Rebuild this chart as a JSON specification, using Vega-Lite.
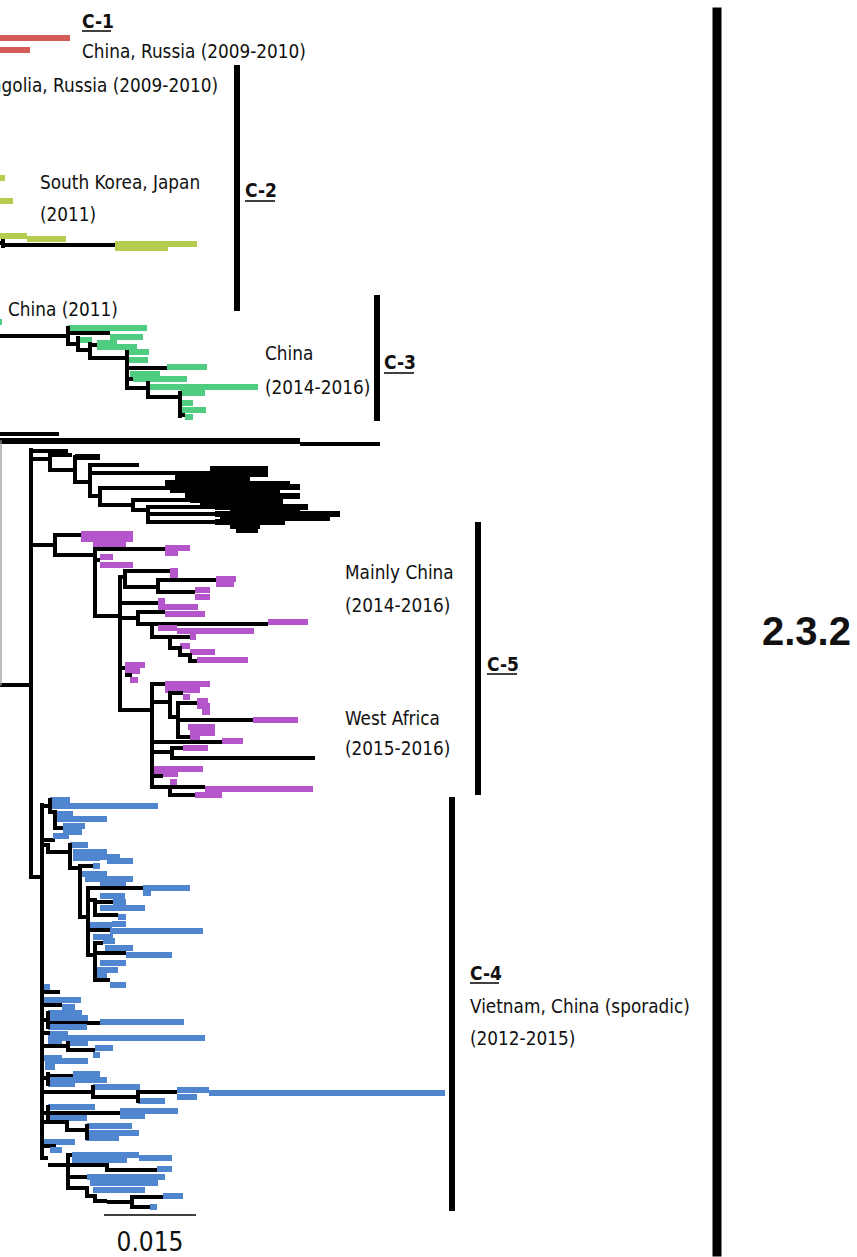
{
"$schema":"https://vega.github.io/schema/vega-lite/v6.json",
"width":857,"height":1257,"padding":0,
"autosize":{"type":"fit","contains":"padding"},
"background":"white",
"config":{"view":{"stroke":null}},
"datasets":{
"h":[
{"x":0,"x2":70,"y":38,"c":"C1","k":"t"},{"x":0,"x2":30,"y":50,"c":"C1","k":"t"},
{"x":0,"x2":5,"y":178,"c":"C2","k":"t"},{"x":0,"x2":13,"y":201,"c":"C2","k":"t"},{"x":0,"x2":27,"y":236,"c":"C2","k":"t"},{"x":27,"x2":66,"y":239,"c":"C2","k":"t"},{"x":0,"x2":3,"y":243,"c":"bk","k":"b"},{"x":3,"x2":115,"y":245,"c":"bk","k":"b"},{"x":115,"x2":197,"y":244,"c":"C2","k":"t"},{"x":115,"x2":168,"y":248,"c":"C2","k":"t"},
{"x":0,"x2":2,"y":322,"c":"C3","k":"t"},
{"x":0,"x2":68,"y":336,"c":"bk","k":"b"},{"x":68,"x2":147,"y":328,"c":"C3","k":"t"},{"x":68,"x2":110,"y":333,"c":"bk","k":"b"},{"x":110,"x2":143,"y":337,"c":"C3","k":"t"},{"x":68,"x2":78,"y":344,"c":"bk","k":"b"},{"x":80,"x2":92,"y":340,"c":"C3","k":"t"},{"x":78,"x2":90,"y":350,"c":"bk","k":"b"},{"x":90,"x2":97,"y":345,"c":"bk","k":"b"},{"x":97,"x2":117,"y":343,"c":"C3","k":"t"},{"x":97,"x2":137,"y":347,"c":"C3","k":"t"},{"x":90,"x2":127,"y":358,"c":"bk","k":"b"},{"x":127,"x2":149,"y":352,"c":"C3","k":"t"},{"x":127,"x2":148,"y":360,"c":"C3","k":"t"},{"x":127,"x2":167,"y":368,"c":"bk","k":"b"},{"x":167,"x2":207,"y":367,"c":"C3","k":"t"},{"x":127,"x2":133,"y":379,"c":"bk","k":"b"},{"x":133,"x2":187,"y":379,"c":"C3","k":"t"},{"x":130,"x2":160,"y":374,"c":"C3","k":"t"},{"x":127,"x2":148,"y":388,"c":"bk","k":"b"},{"x":148,"x2":258,"y":387,"c":"C3","k":"t"},{"x":148,"x2":180,"y":397,"c":"bk","k":"b"},{"x":180,"x2":205,"y":393,"c":"C3","k":"t"},{"x":180,"x2":193,"y":403,"c":"C3","k":"t"},{"x":182,"x2":206,"y":410,"c":"C3","k":"t"},{"x":180,"x2":185,"y":415,"c":"bk","k":"b"},{"x":185,"x2":193,"y":417,"c":"C3","k":"t"},
{"x":0,"x2":59,"y":434,"c":"bk","k":"b"},{"x":0,"x2":300,"y":441,"c":"bk","k":"bt"},{"x":300,"x2":380,"y":444,"c":"bk","k":"b"},{"x":0,"x2":31,"y":685,"c":"bk","k":"b"},
{"x":31,"x2":68,"y":451,"c":"bk","k":"b"},{"x":31,"x2":50,"y":459,"c":"bk","k":"b"},{"x":50,"x2":72,"y":455,"c":"bk","k":"b"},{"x":50,"x2":75,"y":470,"c":"bk","k":"b"},{"x":75,"x2":100,"y":457,"c":"bk","k":"bt"},{"x":75,"x2":90,"y":482,"c":"bk","k":"b"},{"x":90,"x2":139,"y":465,"c":"bk","k":"b"},{"x":90,"x2":190,"y":473,"c":"bk","k":"b"},{"x":190,"x2":268,"y":474,"c":"bk","k":"bt"},{"x":210,"x2":268,"y":469,"c":"bk","k":"bt"},{"x":190,"x2":240,"y":479,"c":"bk","k":"bt"},{"x":90,"x2":100,"y":496,"c":"bk","k":"b"},{"x":100,"x2":170,"y":488,"c":"bk","k":"b"},{"x":170,"x2":300,"y":487,"c":"bk","k":"bt"},{"x":165,"x2":210,"y":483,"c":"bk","k":"bt"},{"x":210,"x2":280,"y":492,"c":"bk","k":"bt"},{"x":100,"x2":133,"y":505,"c":"bk","k":"b"},{"x":133,"x2":190,"y":500,"c":"bk","k":"b"},{"x":190,"x2":283,"y":500,"c":"bk","k":"bt"},{"x":133,"x2":148,"y":510,"c":"bk","k":"b"},{"x":148,"x2":215,"y":507,"c":"bk","k":"b"},{"x":215,"x2":308,"y":507,"c":"bk","k":"bt"},{"x":148,"x2":215,"y":514,"c":"bk","k":"b"},{"x":215,"x2":340,"y":514,"c":"bk","k":"bt"},{"x":148,"x2":215,"y":522,"c":"bk","k":"b"},{"x":215,"x2":285,"y":522,"c":"bk","k":"bt"},{"x":230,"x2":260,"y":526,"c":"bk","k":"bt"},
{"x":175,"x2":250,"y":478,"c":"bk","k":"bt"},{"x":200,"x2":290,"y":484,"c":"bk","k":"bt"},{"x":170,"x2":260,"y":490,"c":"bk","k":"bt"},{"x":185,"x2":300,"y":496,"c":"bk","k":"bt"},{"x":200,"x2":283,"y":503,"c":"bk","k":"bt"},{"x":230,"x2":300,"y":510,"c":"bk","k":"bt"},{"x":220,"x2":330,"y":518,"c":"bk","k":"bt"},{"x":236,"x2":258,"y":530,"c":"bk","k":"bt"},
{"x":31,"x2":55,"y":545,"c":"bk","k":"b"},{"x":55,"x2":81,"y":535,"c":"bk","k":"b"},{"x":81,"x2":133,"y":534,"c":"C5","k":"t"},{"x":81,"x2":133,"y":539,"c":"C5","k":"t"},{"x":93,"x2":126,"y":544,"c":"C5","k":"t"},{"x":55,"x2":95,"y":555,"c":"bk","k":"b"},{"x":95,"x2":165,"y":549,"c":"bk","k":"b"},{"x":165,"x2":190,"y":548,"c":"C5","k":"t"},{"x":165,"x2":178,"y":553,"c":"C5","k":"t"},{"x":95,"x2":100,"y":560,"c":"bk","k":"b"},{"x":100,"x2":113,"y":557,"c":"C5","k":"t"},{"x":100,"x2":133,"y":565,"c":"C5","k":"t"},{"x":95,"x2":120,"y":616,"c":"bk","k":"b"},{"x":120,"x2":125,"y":577,"c":"bk","k":"b"},{"x":125,"x2":170,"y":571,"c":"bk","k":"b"},{"x":170,"x2":178,"y":571,"c":"C5","k":"t"},{"x":170,"x2":178,"y":576,"c":"C5","k":"t"},{"x":125,"x2":158,"y":587,"c":"bk","k":"b"},{"x":158,"x2":216,"y":580,"c":"bk","k":"b"},{"x":216,"x2":236,"y":579,"c":"C5","k":"t"},{"x":216,"x2":234,"y":584,"c":"C5","k":"t"},{"x":158,"x2":195,"y":592,"c":"bk","k":"b"},{"x":195,"x2":210,"y":590,"c":"C5","k":"t"},{"x":195,"x2":210,"y":597,"c":"C5","k":"t"},{"x":120,"x2":158,"y":603,"c":"bk","k":"b"},{"x":158,"x2":165,"y":601,"c":"C5","k":"t"},{"x":120,"x2":138,"y":618,"c":"bk","k":"b"},{"x":138,"x2":165,"y":612,"c":"bk","k":"b"},{"x":165,"x2":205,"y":614,"c":"C5","k":"t"},{"x":158,"x2":198,"y":607,"c":"C5","k":"t"},{"x":138,"x2":268,"y":624,"c":"bk","k":"b"},{"x":268,"x2":308,"y":622,"c":"C5","k":"t"},
{"x":152,"x2":190,"y":637,"c":"bk","k":"b"},{"x":190,"x2":196,"y":637,"c":"C5","k":"t"},{"x":158,"x2":177,"y":628,"c":"C5","k":"t"},{"x":177,"x2":254,"y":631,"c":"C5","k":"t"},{"x":170,"x2":180,"y":648,"c":"bk","k":"b"},{"x":180,"x2":190,"y":655,"c":"bk","k":"b"},{"x":190,"x2":197,"y":661,"c":"bk","k":"b"},{"x":180,"x2":190,"y":646,"c":"C5","k":"t"},{"x":190,"x2":215,"y":652,"c":"C5","k":"t"},{"x":197,"x2":248,"y":660,"c":"C5","k":"t"},
{"x":120,"x2":125,"y":668,"c":"bk","k":"b"},{"x":125,"x2":145,"y":665,"c":"C5","k":"t"},{"x":125,"x2":140,"y":671,"c":"C5","k":"t"},{"x":125,"x2":132,"y":675,"c":"bk","k":"b"},{"x":130,"x2":138,"y":680,"c":"C5","k":"t"},
{"x":120,"x2":152,"y":710,"c":"bk","k":"b"},{"x":152,"x2":165,"y":684,"c":"bk","k":"b"},{"x":165,"x2":210,"y":684,"c":"C5","k":"t"},{"x":165,"x2":200,"y":690,"c":"C5","k":"t"},{"x":152,"x2":170,"y":702,"c":"bk","k":"b"},{"x":170,"x2":183,"y":693,"c":"bk","k":"b"},{"x":183,"x2":190,"y":697,"c":"C5","k":"t"},{"x":170,"x2":178,"y":717,"c":"bk","k":"b"},{"x":178,"x2":197,"y":703,"c":"bk","k":"b"},{"x":197,"x2":208,"y":701,"c":"C5","k":"t"},{"x":197,"x2":210,"y":706,"c":"C5","k":"t"},{"x":202,"x2":210,"y":712,"c":"C5","k":"t"},{"x":178,"x2":253,"y":720,"c":"bk","k":"b"},{"x":253,"x2":298,"y":720,"c":"C5","k":"t"},{"x":188,"x2":215,"y":727,"c":"C5","k":"t"},{"x":190,"x2":215,"y":733,"c":"C5","k":"t"},{"x":178,"x2":190,"y":737,"c":"bk","k":"b"},{"x":190,"x2":200,"y":738,"c":"C5","k":"t"},{"x":152,"x2":222,"y":742,"c":"bk","k":"b"},{"x":222,"x2":243,"y":741,"c":"C5","k":"t"},{"x":152,"x2":172,"y":752,"c":"bk","k":"b"},{"x":172,"x2":183,"y":748,"c":"bk","k":"b"},{"x":183,"x2":208,"y":748,"c":"C5","k":"t"},{"x":172,"x2":315,"y":758,"c":"bk","k":"b"},{"x":152,"x2":203,"y":769,"c":"C5","k":"t"},{"x":152,"x2":178,"y":774,"c":"C5","k":"t"},{"x":150,"x2":163,"y":776,"c":"bk","k":"b"},{"x":170,"x2":177,"y":782,"c":"C5","k":"t"},{"x":152,"x2":205,"y":787,"c":"bk","k":"b"},{"x":205,"x2":313,"y":789,"c":"C5","k":"t"},{"x":170,"x2":195,"y":795,"c":"bk","k":"b"},{"x":195,"x2":222,"y":795,"c":"C5","k":"t"},
{"x":31,"x2":42,"y":877,"c":"bk","k":"b"},
{"x":42,"x2":50,"y":806,"c":"bk","k":"b"},{"x":50,"x2":70,"y":800,"c":"C4","k":"t"},{"x":50,"x2":158,"y":806,"c":"C4","k":"t"},{"x":50,"x2":55,"y":812,"c":"bk","k":"b"},{"x":55,"x2":73,"y":814,"c":"C4","k":"t"},{"x":57,"x2":107,"y":819,"c":"C4","k":"t"},{"x":55,"x2":63,"y":828,"c":"bk","k":"b"},{"x":63,"x2":85,"y":826,"c":"C4","k":"t"},{"x":63,"x2":82,"y":832,"c":"C4","k":"t"},
{"x":42,"x2":55,"y":840,"c":"bk","k":"b"},{"x":53,"x2":69,"y":836,"c":"C4","k":"t"},
{"x":42,"x2":48,"y":845,"c":"bk","k":"b"},{"x":48,"x2":70,"y":852,"c":"bk","k":"b"},{"x":70,"x2":88,"y":845,"c":"C4","k":"t"},{"x":73,"x2":107,"y":852,"c":"C4","k":"t"},{"x":85,"x2":120,"y":857,"c":"C4","k":"t"},{"x":107,"x2":133,"y":861,"c":"C4","k":"t"},{"x":73,"x2":100,"y":858,"c":"C4","k":"t"},
{"x":70,"x2":80,"y":868,"c":"bk","k":"b"},{"x":80,"x2":93,"y":866,"c":"bk","k":"b"},{"x":93,"x2":100,"y":866,"c":"C4","k":"t"},{"x":82,"x2":107,"y":874,"c":"C4","k":"t"},{"x":85,"x2":133,"y":879,"c":"C4","k":"t"},{"x":100,"x2":126,"y":884,"c":"C4","k":"t"},
{"x":80,"x2":88,"y":917,"c":"bk","k":"b"},{"x":88,"x2":143,"y":888,"c":"bk","k":"b"},{"x":143,"x2":190,"y":888,"c":"C4","k":"t"},{"x":143,"x2":151,"y":893,"c":"C4","k":"t"},
{"x":88,"x2":95,"y":900,"c":"bk","k":"b"},{"x":95,"x2":113,"y":902,"c":"bk","k":"b"},{"x":100,"x2":125,"y":896,"c":"C4","k":"t"},{"x":113,"x2":126,"y":902,"c":"C4","k":"t"},{"x":100,"x2":145,"y":908,"c":"C4","k":"t"},{"x":95,"x2":118,"y":915,"c":"bk","k":"b"},{"x":118,"x2":126,"y":917,"c":"C4","k":"t"},{"x":112,"x2":126,"y":924,"c":"C4","k":"t"},
{"x":88,"x2":110,"y":930,"c":"bk","k":"b"},{"x":110,"x2":203,"y":931,"c":"C4","k":"t"},{"x":90,"x2":112,"y":925,"c":"C4","k":"t"},{"x":93,"x2":113,"y":937,"c":"C4","k":"t"},
{"x":88,"x2":95,"y":955,"c":"bk","k":"b"},{"x":95,"x2":103,"y":943,"c":"bk","k":"b"},{"x":103,"x2":115,"y":941,"c":"C4","k":"t"},{"x":105,"x2":133,"y":948,"c":"C4","k":"t"},{"x":95,"x2":126,"y":953,"c":"bk","k":"b"},{"x":126,"x2":172,"y":955,"c":"C4","k":"t"},{"x":100,"x2":126,"y":963,"c":"C4","k":"t"},{"x":97,"x2":118,"y":970,"c":"C4","k":"t"},{"x":95,"x2":107,"y":976,"c":"C4","k":"t"},{"x":95,"x2":110,"y":980,"c":"bk","k":"b"},{"x":110,"x2":126,"y":985,"c":"C4","k":"t"},
{"x":43,"x2":50,"y":987,"c":"C4","k":"t"},{"x":42,"x2":60,"y":992,"c":"bk","k":"b"},{"x":44,"x2":81,"y":1000,"c":"C4","k":"t"},{"x":42,"x2":62,"y":1005,"c":"bk","k":"b"},{"x":62,"x2":75,"y":1007,"c":"C4","k":"t"},{"x":48,"x2":82,"y":1013,"c":"C4","k":"t"},{"x":48,"x2":88,"y":1018,"c":"C4","k":"t"},{"x":42,"x2":48,"y":1020,"c":"bk","k":"b"},{"x":48,"x2":100,"y":1023,"c":"bk","k":"b"},{"x":100,"x2":184,"y":1022,"c":"C4","k":"t"},{"x":48,"x2":87,"y":1027,"c":"C4","k":"t"},{"x":42,"x2":50,"y":1033,"c":"bk","k":"b"},{"x":50,"x2":68,"y":1034,"c":"C4","k":"t"},{"x":48,"x2":205,"y":1038,"c":"C4","k":"t"},{"x":48,"x2":62,"y":1042,"c":"C4","k":"t"},{"x":42,"x2":68,"y":1046,"c":"bk","k":"b"},{"x":68,"x2":88,"y":1043,"c":"C4","k":"t"},{"x":68,"x2":95,"y":1050,"c":"bk","k":"b"},{"x":95,"x2":113,"y":1048,"c":"C4","k":"t"},{"x":93,"x2":100,"y":1055,"c":"C4","k":"t"},{"x":43,"x2":62,"y":1058,"c":"C4","k":"t"},{"x":45,"x2":88,"y":1061,"c":"C4","k":"t"},{"x":45,"x2":55,"y":1067,"c":"C4","k":"t"},{"x":42,"x2":48,"y":1078,"c":"bk","k":"b"},{"x":48,"x2":73,"y":1076,"c":"bk","k":"b"},{"x":73,"x2":100,"y":1074,"c":"C4","k":"t"},{"x":48,"x2":107,"y":1080,"c":"C4","k":"t"},{"x":48,"x2":75,"y":1084,"c":"C4","k":"t"},{"x":42,"x2":93,"y":1092,"c":"bk","k":"b"},{"x":93,"x2":140,"y":1087,"c":"C4","k":"t"},{"x":93,"x2":138,"y":1097,"c":"bk","k":"b"},{"x":138,"x2":177,"y":1092,"c":"bk","k":"b"},{"x":177,"x2":209,"y":1090,"c":"C4","k":"t"},{"x":209,"x2":445,"y":1093,"c":"C4","k":"t"},{"x":177,"x2":197,"y":1097,"c":"C4","k":"t"},{"x":138,"x2":165,"y":1101,"c":"C4","k":"t"},{"x":48,"x2":95,"y":1107,"c":"C4","k":"t"},{"x":42,"x2":120,"y":1113,"c":"bk","k":"b"},{"x":120,"x2":178,"y":1111,"c":"C4","k":"t"},{"x":120,"x2":145,"y":1116,"c":"C4","k":"t"},{"x":48,"x2":87,"y":1118,"c":"C4","k":"t"},{"x":42,"x2":67,"y":1122,"c":"bk","k":"b"},{"x":67,"x2":87,"y":1130,"c":"bk","k":"b"},{"x":87,"x2":132,"y":1126,"c":"C4","k":"t"},{"x":87,"x2":139,"y":1133,"c":"C4","k":"t"},{"x":86,"x2":119,"y":1138,"c":"C4","k":"t"},{"x":43,"x2":75,"y":1142,"c":"C4","k":"t"},{"x":42,"x2":56,"y":1146,"c":"bk","k":"b"},{"x":50,"x2":62,"y":1150,"c":"C4","k":"t"},
{"x":42,"x2":48,"y":1158,"c":"bk","k":"b"},{"x":48,"x2":68,"y":1165,"c":"bk","k":"b"},{"x":68,"x2":72,"y":1155,"c":"bk","k":"b"},{"x":72,"x2":139,"y":1155,"c":"C4","k":"t"},{"x":139,"x2":172,"y":1158,"c":"C4","k":"t"},{"x":72,"x2":127,"y":1160,"c":"C4","k":"t"},{"x":68,"x2":107,"y":1165,"c":"bk","k":"b"},{"x":107,"x2":157,"y":1170,"c":"bk","k":"b"},{"x":157,"x2":172,"y":1169,"c":"C4","k":"t"},{"x":68,"x2":87,"y":1177,"c":"bk","k":"b"},{"x":87,"x2":165,"y":1177,"c":"C4","k":"t"},{"x":90,"x2":158,"y":1183,"c":"C4","k":"t"},{"x":68,"x2":87,"y":1188,"c":"bk","k":"b"},{"x":93,"x2":145,"y":1190,"c":"C4","k":"t"},{"x":87,"x2":95,"y":1196,"c":"bk","k":"b"},{"x":95,"x2":107,"y":1201,"c":"bk","k":"b"},{"x":107,"x2":132,"y":1202,"c":"bk","k":"b"},{"x":132,"x2":163,"y":1197,"c":"bk","k":"b"},{"x":163,"x2":183,"y":1196,"c":"C4","k":"t"},{"x":132,"x2":150,"y":1207,"c":"bk","k":"b"},{"x":150,"x2":157,"y":1207,"c":"C4","k":"t"},
{"x":104,"x2":196,"y":1215,"c":"bk","k":"sc"},
{"x":82,"x2":111,"y":31,"c":"bk","k":"ul"},{"x":245,"x2":275,"y":201,"c":"bk","k":"ul"},{"x":384,"x2":414,"y":373,"c":"bk","k":"ul"},{"x":487,"x2":517,"y":674,"c":"bk","k":"ul"},{"x":470,"x2":499,"y":983,"c":"bk","k":"ul"}
],
"v":[
{"x":3,"y":241,"y2":246,"c":"bk","k":"b"},
{"x":68,"y":328,"y2":344,"c":"bk","k":"b"},{"x":78,"y":338,"y2":350,"c":"bk","k":"b"},{"x":90,"y":344,"y2":358,"c":"bk","k":"b"},{"x":127,"y":352,"y2":388,"c":"bk","k":"b"},{"x":148,"y":383,"y2":397,"c":"bk","k":"b"},{"x":180,"y":393,"y2":416,"c":"bk","k":"b"},
{"x":1,"y":441,"y2":685,"c":"gr","k":"r"},{"x":31,"y":450,"y2":877,"c":"bk","k":"b"},
{"x":50,"y":455,"y2":470,"c":"bk","k":"b"},{"x":75,"y":457,"y2":482,"c":"bk","k":"b"},{"x":90,"y":465,"y2":496,"c":"bk","k":"b"},{"x":100,"y":488,"y2":505,"c":"bk","k":"b"},{"x":133,"y":500,"y2":510,"c":"bk","k":"b"},{"x":148,"y":507,"y2":522,"c":"bk","k":"b"},
{"x":55,"y":535,"y2":555,"c":"bk","k":"b"},{"x":95,"y":549,"y2":616,"c":"bk","k":"b"},{"x":120,"y":577,"y2":710,"c":"bk","k":"b"},{"x":125,"y":571,"y2":587,"c":"bk","k":"b"},{"x":158,"y":580,"y2":592,"c":"bk","k":"b"},{"x":138,"y":612,"y2":624,"c":"bk","k":"b"},{"x":152,"y":624,"y2":637,"c":"bk","k":"b"},{"x":170,"y":637,"y2":648,"c":"bk","k":"b"},{"x":180,"y":648,"y2":655,"c":"bk","k":"b"},{"x":190,"y":655,"y2":661,"c":"bk","k":"b"},{"x":152,"y":684,"y2":787,"c":"bk","k":"b"},{"x":170,"y":693,"y2":717,"c":"bk","k":"b"},{"x":178,"y":703,"y2":737,"c":"bk","k":"b"},{"x":172,"y":748,"y2":758,"c":"bk","k":"b"},{"x":170,"y":787,"y2":795,"c":"bk","k":"b"},
{"x":42,"y":805,"y2":1158,"c":"bk","k":"b"},{"x":50,"y":800,"y2":812,"c":"bk","k":"b"},{"x":55,"y":812,"y2":828,"c":"bk","k":"b"},{"x":48,"y":845,"y2":852,"c":"bk","k":"b"},{"x":70,"y":845,"y2":868,"c":"bk","k":"b"},{"x":80,"y":866,"y2":917,"c":"bk","k":"b"},{"x":88,"y":888,"y2":955,"c":"bk","k":"b"},{"x":95,"y":900,"y2":915,"c":"bk","k":"b"},{"x":95,"y":943,"y2":980,"c":"bk","k":"b"},
{"x":48,"y":1013,"y2":1027,"c":"bk","k":"b"},{"x":68,"y":1043,"y2":1050,"c":"bk","k":"b"},{"x":48,"y":1074,"y2":1084,"c":"bk","k":"b"},{"x":93,"y":1087,"y2":1097,"c":"bk","k":"b"},{"x":138,"y":1092,"y2":1101,"c":"bk","k":"b"},{"x":48,"y":1107,"y2":1118,"c":"bk","k":"b"},{"x":67,"y":1122,"y2":1130,"c":"bk","k":"b"},{"x":87,"y":1126,"y2":1138,"c":"bk","k":"b"},
{"x":68,"y":1155,"y2":1188,"c":"bk","k":"b"},{"x":107,"y":1165,"y2":1170,"c":"bk","k":"b"},{"x":87,"y":1188,"y2":1196,"c":"bk","k":"b"},{"x":95,"y":1196,"y2":1201,"c":"bk","k":"b"},{"x":132,"y":1197,"y2":1207,"c":"bk","k":"b"},
{"x":237,"y":68,"y2":308,"c":"bk","k":"bar"},{"x":377,"y":298,"y2":418,"c":"bk","k":"bar"},{"x":478,"y":525,"y2":792,"c":"bk","k":"bar"},{"x":452,"y":800,"y2":1208,"c":"bk","k":"bar"},{"x":717,"y":12,"y2":1252,"c":"bk","k":"big"}
],
"lab":[
{"x":82,"y":58,"t":"China, Russia (2009-2010)"},
{"x":40,"y":189,"t":"South Korea, Japan"},{"x":40,"y":221,"t":"(2011)"},
{"x":8,"y":316,"t":"China (2011)"},
{"x":265,"y":360,"t":"China"},{"x":265,"y":394,"t":"(2014-2016)"},
{"x":345,"y":579,"t":"Mainly China"},{"x":345,"y":612,"t":"(2014-2016)"},
{"x":345,"y":725,"t":"West Africa"},{"x":345,"y":755,"t":"(2015-2016)"},
{"x":470,"y":1013,"t":"Vietnam, China (sporadic)"},{"x":470,"y":1045,"t":"(2012-2015)"}
],
"labr":[{"x":218,"y":92,"t":"Mongolia, Russia (2009-2010)"}],
"head":[
{"x":82,"y":28,"t":"C-1"},{"x":245,"y":197,"t":"C-2"},{"x":384,"y":369,"t":"C-3"},{"x":487,"y":671,"t":"C-5"},{"x":470,"y":980,"t":"C-4"}
],
"num":[{"x":150,"y":1251,"t":"0.015"}],
"big":[{"x":762,"y":645,"t":"2.3.2"}]
},
"layer":[
{"data":{"name":"h"},"mark":{"type":"rule","clip":true,"strokeCap":"butt"},
 "encoding":{
  "x":{"field":"x","type":"quantitative","scale":{"domain":[0,857],"nice":false,"zero":false},"axis":null},
  "x2":{"field":"x2"},
  "y":{"field":"y","type":"quantitative","scale":{"domain":[0,1257],"nice":false,"zero":false,"reverse":true},"axis":null},
  "color":{"field":"c","type":"nominal","scale":{"domain":["bk","gr","C1","C2","C3","C4","C5"],"range":["#000000","#9a9a9a","#d45b57","#b5cd4e","#4fcc80","#4f86cf","#b455cc"]},"legend":null},
  "strokeWidth":{"field":"k","type":"nominal","scale":{"type":"ordinal","domain":["b","bt","t","r","bar","big","sc","ul"],"range":[4,6,6,1.3,6,9,1.5,1.5]},"legend":null}
 }},
{"data":{"name":"v"},"mark":{"type":"rule","clip":true,"strokeCap":"square"},
 "encoding":{
  "x":{"field":"x","type":"quantitative","scale":{"domain":[0,857],"nice":false,"zero":false},"axis":null},
  "y":{"field":"y","type":"quantitative","scale":{"domain":[0,1257],"nice":false,"zero":false,"reverse":true},"axis":null},
  "y2":{"field":"y2"},
  "color":{"field":"c","type":"nominal","scale":{"domain":["bk","gr","C1","C2","C3","C4","C5"],"range":["#000000","#9a9a9a","#d45b57","#b5cd4e","#4fcc80","#4f86cf","#b455cc"]},"legend":null},
  "strokeWidth":{"field":"k","type":"nominal","scale":{"type":"ordinal","domain":["b","bt","t","r","bar","big","sc","ul"],"range":[4,6,6,1.3,6,9,1.5,1.5]},"legend":null}
 }},
{"data":{"name":"lab"},"mark":{"type":"text","clip":true,"align":"left","baseline":"alphabetic","font":"DejaVu Sans Condensed","fontSize":18.8,"color":"#111111"},
 "encoding":{"x":{"field":"x","type":"quantitative","axis":null},"y":{"field":"y","type":"quantitative","axis":null},"text":{"field":"t"}}},
{"data":{"name":"labr"},"mark":{"type":"text","clip":true,"align":"right","baseline":"alphabetic","font":"DejaVu Sans Condensed","fontSize":18.8,"color":"#111111"},
 "encoding":{"x":{"field":"x","type":"quantitative","axis":null},"y":{"field":"y","type":"quantitative","axis":null},"text":{"field":"t"}}},
{"data":{"name":"head"},"mark":{"type":"text","clip":true,"align":"left","baseline":"alphabetic","font":"DejaVu Sans Condensed","fontSize":19,"fontWeight":"bold","color":"#111111"},
 "encoding":{"x":{"field":"x","type":"quantitative","axis":null},"y":{"field":"y","type":"quantitative","axis":null},"text":{"field":"t"}}},
{"data":{"name":"num"},"mark":{"type":"text","clip":true,"align":"center","baseline":"alphabetic","font":"DejaVu Sans Condensed","fontSize":26,"color":"#111111"},
 "encoding":{"x":{"field":"x","type":"quantitative","axis":null},"y":{"field":"y","type":"quantitative","axis":null},"text":{"field":"t"}}},
{"data":{"name":"big"},"mark":{"type":"text","clip":true,"align":"left","baseline":"alphabetic","font":"Liberation Sans, Arial, sans-serif","fontSize":40,"fontWeight":"bold","color":"#111111"},
 "encoding":{"x":{"field":"x","type":"quantitative","axis":null},"y":{"field":"y","type":"quantitative","axis":null},"text":{"field":"t"}}}
]
}
